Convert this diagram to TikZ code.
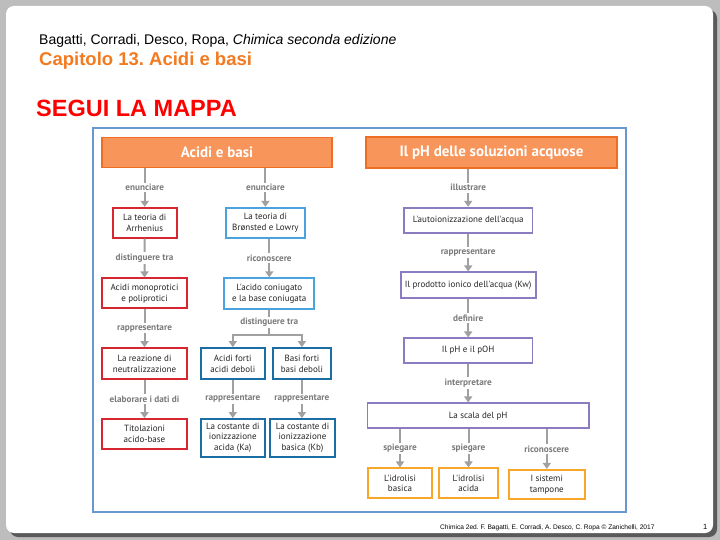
\documentclass[tikz,border=0pt]{standalone}
\usepackage{fontspec}
\setmainfont{Liberation Sans}
\newfontfamily\mapfont{PT Sans}
\usetikzlibrary{arrows.meta}
\frenchspacing
\definecolor{bggray}{HTML}{BDBDBD}
\definecolor{shadowc}{HTML}{5A5A5A}
\definecolor{titleor}{HTML}{F47A20}
\definecolor{titlered}{HTML}{FF0000}
\definecolor{frameblue}{HTML}{6A98CE}
\definecolor{hdrfill}{HTML}{F7955A}
\definecolor{hdrdraw}{HTML}{EE6E23}
\definecolor{cred}{HTML}{D7262F}
\definecolor{clblue}{HTML}{4AA3DF}
\definecolor{cdblue}{HTML}{1B6EA3}
\definecolor{cpurple}{HTML}{8B7BC0}
\definecolor{cyel}{HTML}{F9A72B}
\definecolor{arrgray}{HTML}{A0A0A0}
\definecolor{lblgray}{HTML}{7A7A7A}
\tikzset{
  box/.style={draw, line width=1.7pt, fill=white, inner sep=1pt, align=center,
    font=\mapfont\fontsize{9}{10.8}\selectfont, text=black!85},
  redbox/.style={box, draw=cred},
  lbbox/.style={box, draw=clblue},
  dbbox/.style={box, draw=cdblue},
  pubox/.style={box, draw=cpurple},
  yebox/.style={box, draw=cyel},
  hdr/.style={draw=hdrdraw, fill=hdrfill, line width=1.4pt, text=white,
    font=\mapfont\bfseries\fontsize{15}{18}\selectfont, inner sep=0pt},
  conn/.style={draw=arrgray, line width=2pt, -{Triangle[width=8pt,length=6pt]}},
  connl/.style={draw=arrgray, line width=2pt},
  lbl/.style={fill=white, inner sep=1.5pt, text=lblgray,
    font=\mapfont\bfseries\fontsize{9.2}{10.5}\selectfont},
}
\begin{document}
\begin{tikzpicture}[x=1pt,y=-1pt]
\useasboundingbox (0,0) rectangle (720,540);
% slide
\fill[bggray] (0,0) rectangle (720,540);
\fill[shadowc, rounded corners=8pt] (10,10) rectangle (717,537);
\fill[white, rounded corners=8pt] (6,6) rectangle (713,533);
% titles
\node[anchor=base west, inner sep=0, font=\fontsize{14}{16}\selectfont] (t1) at (39,45) {Bagatti, Corradi, Desco, Ropa, \textit{Chimica seconda edizione}};
\node[anchor=base west, inner sep=0, text=titleor, font=\bfseries\fontsize{18.5}{21}\selectfont] (t2) at (39,66) {Capitolo 13. Acidi e basi};
\node[anchor=base west, inner sep=0, text=titlered, font=\bfseries\fontsize{23.5}{27}\selectfont] (t3) at (36,116.5) {SEGUI LA MAPPA};
\node[anchor=base west, inner sep=0, font=\fontsize{6.6}{8}\selectfont] (foot) at (440,529) {Chimica 2ed. F. Bagatti, E. Corradi, A. Desco, C. Ropa \textcopyright{} Zanichelli, 2017};
\node[anchor=base west, inner sep=0, font=\fontsize{7.5}{9}\selectfont] (pg) at (703,529) {1};
% frame
\draw[frameblue, line width=2pt] (93,128) rectangle (626,512);
% headers
\node[hdr, minimum width=230, minimum height=30] (h1) at (217,152.5) {Acidi e basi};
\node[hdr, minimum width=251, minimum height=31] (h2) at (491.5,152.5) {Il pH delle soluzioni acquose};
% column 1
\node[redbox, minimum width=64, minimum height=30] (arr) at (144.7,222.7) {La teoria di\\Arrhenius};
\node[redbox, minimum width=84.4, minimum height=30] (mono) at (144.5,293.3) {Acidi monoprotici\\e poliprotici};
\node[redbox, minimum width=85, minimum height=31] (neut) at (144.5,363.5) {La reazione di\\neutralizzazione};
\node[redbox, minimum width=85, minimum height=30] (tit) at (144.5,434) {Titolazioni\\acido-base};
% column 2
\node[lbbox, minimum width=79.3, minimum height=30] (bron) at (265.4,222.7) {La teoria di\\Brønsted e Lowry};
\node[lbbox, minimum width=90, minimum height=30.5] (coni) at (269.3,293.5) {L'acido coniugato\\e la base coniugata};
\node[dbbox, minimum width=64.3, minimum height=31] (forti) at (232.8,363.5) {Acidi forti\\acidi deboli};
\node[dbbox, minimum width=58.3, minimum height=31] (basi) at (301.9,363.5) {Basi forti\\basi deboli};
\node[dbbox, minimum width=64.3, minimum height=37.7] (ka) at (232.8,437.8) {La costante di\\ionizzazione\\acida (Ka)};
\node[dbbox, minimum width=65, minimum height=37.7] (kb) at (302.5,437.8) {La costante di\\ionizzazione\\basica (Kb)};
% column 3
\node[pubox, minimum width=128.3, minimum height=25] (auto) at (468.2,220.2) {L'autoionizzazione dell'acqua};
\node[pubox, minimum width=135, minimum height=26] (kw) at (468.2,285.3) {Il prodotto ionico dell'acqua (Kw)};
\node[pubox, minimum width=128.3, minimum height=24.4] (ph) at (468.2,350.5) {Il pH e il pOH};
\node[pubox, minimum width=221.7, minimum height=25] (scala) at (478.2,415.8) {La scala del pH};
\node[yebox, minimum width=64.6, minimum height=30] (idb) at (400,483.3) {L'idrolisi\\basica};
\node[yebox, minimum width=58.4, minimum height=30] (ida) at (468.5,483.3) {L'idrolisi\\acida};
\node[yebox, minimum width=76.3, minimum height=29.3] (tamp) at (546.8,484.4) {I sistemi\\tampone};
% connectors column 1
\draw[conn] (arr.north |- h1.south) -- node[lbl]{enunciare} (arr.north);
\draw[conn] (arr.south) -- node[lbl]{distinguere tra} (mono.north);
\draw[conn] (mono.south) -- node[lbl]{rappresentare} (neut.north);
\draw[conn] (neut.south) -- node[lbl]{elaborare i dati di} (tit.north);
% connectors column 2
\draw[conn] (bron.north |- h1.south) -- node[lbl]{enunciare} (bron.north);
\draw[conn] (bron.south -| coni.north) -- node[lbl]{riconoscere} (coni.north);
\coordinate (br) at (269.3,335);
\draw[connl] (coni.south) -- node[lbl]{distinguere tra} (br);
\draw[connl, line cap=rect] (forti.north |- br) -- (basi.north |- br);
\draw[conn] (forti.north |- br) -- (forti.north);
\draw[conn] (basi.north |- br) -- (basi.north);
\draw[conn] (forti.south) -- node[lbl]{rappresentare} (ka.north -| forti.south);
\draw[conn] (basi.south) -- node[lbl]{rappresentare} (kb.north -| basi.south);
% connectors column 3
\draw[conn] (auto.north |- h2.south) -- node[lbl]{illustrare} (auto.north);
\draw[conn] (auto.south) -- node[lbl]{rappresentare} (kw.north);
\draw[conn] (kw.south) -- node[lbl]{definire} (ph.north);
\draw[conn] (ph.south) -- node[lbl]{interpretare} (ph.south |- scala.north);
\draw[conn] (idb.north |- scala.south) -- node[lbl]{spiegare} (idb.north);
\draw[conn] (ida.north |- scala.south) -- node[lbl]{spiegare} (ida.north);
\draw[conn] (tamp.north |- scala.south) -- node[lbl]{riconoscere} (tamp.north);
\end{tikzpicture}
\end{document}
